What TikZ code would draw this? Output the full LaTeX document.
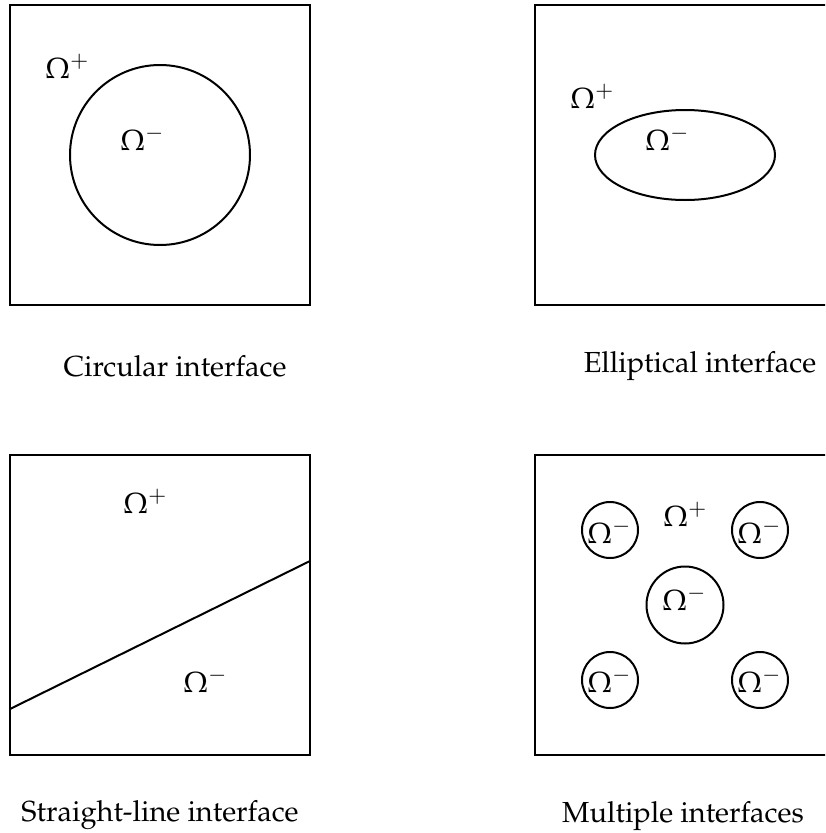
\documentclass[tikz,border=0pt]{standalone}
\usepackage[T1]{fontenc}
\usepackage{mathpazo}
\usetikzlibrary{shapes.geometric}
\begin{document}
\begin{tikzpicture}[x=1pt,y=-1pt,
  frame/.style={draw, line width=2pt},
  iface/.style={draw, line width=2pt, inner sep=0pt},
  lbl/.style={font=\fontsize{29}{34}\selectfont, inner sep=0pt, anchor=base west},
  captext/.style={font=\fontsize{29}{34}\selectfont, inner sep=0pt, anchor=base}]
\clip (0,0) rectangle (825,833);
% Box 1: circular
\node[frame, minimum width=300, minimum height=300, inner sep=0pt] (b1) at (160,155) {};
\node[iface, circle, minimum size=180] (c1) at (160,155) {};
\node[lbl] (p1) at (45,78) {$\Omega^+$};
\node[lbl] (m1) at (120,150) {$\Omega^-$};
\node[captext] (t1) at (175,376) {Circular interface};
% Box 2: elliptical
\node[frame, minimum width=300, minimum height=300, inner sep=0pt] (b2) at (685,155) {};
\node[iface, ellipse, minimum width=180, minimum height=90] (e2) at (685,155) {};
\node[lbl] (p2) at (570,108) {$\Omega^+$};
\node[lbl] (m2) at (645,150) {$\Omega^-$};
\node[captext] (t2) at (700,372) {Elliptical interface};
% Box 3: straight line
\node[frame, minimum width=300, minimum height=300, inner sep=0pt] (b3) at (160,605) {};
\coordinate (la) at (10,709);
\coordinate (lb) at (310,561);
\draw[line width=2pt] (la) -- (lb);
\node[lbl] (p3) at (123,513) {$\Omega^+$};
\node[lbl] (m3) at (183,692) {$\Omega^-$};
\node[captext] (t3) at (160,821) {Straight-line interface};
% Box 4: multiple
\node[frame, minimum width=300, minimum height=300, inner sep=0pt] (b4) at (685,605) {};
\node[iface, circle, minimum size=56] (c41) at (610,530) {};
\node[iface, circle, minimum size=56] (c42) at (760,530) {};
\node[iface, circle, minimum size=77] (c43) at (685,605) {};
\node[iface, circle, minimum size=56] (c44) at (610,680) {};
\node[iface, circle, minimum size=56] (c45) at (760,680) {};
\node[lbl] (p4) at (663,526) {$\Omega^+$};
\node[lbl] (m41) at (587,543) {$\Omega^-$};
\node[lbl] (m42) at (737,543) {$\Omega^-$};
\node[lbl] (m43) at (662,610) {$\Omega^-$};
\node[lbl] (m44) at (587,692) {$\Omega^-$};
\node[lbl] (m45) at (737,692) {$\Omega^-$};
\node[captext] (t4) at (683,822) {Multiple interfaces};
\end{tikzpicture}
\end{document}
